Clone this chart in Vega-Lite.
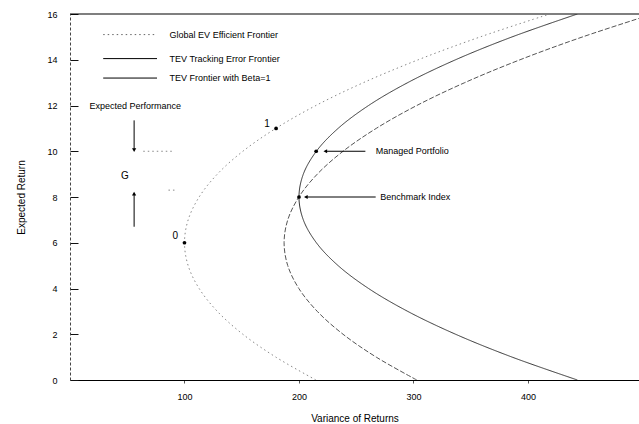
{
  "$schema": "https://vega.github.io/schema/vega-lite/v6.json",
  "width": 569,
  "height": 366,
  "autosize": "none",
  "padding": {"left": 70, "top": 14, "right": 0, "bottom": 44},
  "background": "white",
  "config": {
    "view": {"stroke": null},
    "font": "Liberation Sans",
    "axis": {"grid": false, "labelFont": "Liberation Sans", "titleFont": "Liberation Sans", "labelColor": "black", "titleColor": "black", "titleFontWeight": "normal"}
  },
  "datasets": {
    "curves": [
      {"series": "Global EV Efficient Frontier", "mu": 0, "v": 214.8},
      {"series": "Global EV Efficient Frontier", "mu": 1, "v": 179.8},
      {"series": "Global EV Efficient Frontier", "mu": 2, "v": 151.0},
      {"series": "Global EV Efficient Frontier", "mu": 3, "v": 128.7},
      {"series": "Global EV Efficient Frontier", "mu": 4, "v": 112.8},
      {"series": "Global EV Efficient Frontier", "mu": 5, "v": 103.2},
      {"series": "Global EV Efficient Frontier", "mu": 6, "v": 100.0},
      {"series": "Global EV Efficient Frontier", "mu": 7, "v": 103.2},
      {"series": "Global EV Efficient Frontier", "mu": 8, "v": 112.8},
      {"series": "Global EV Efficient Frontier", "mu": 9, "v": 128.7},
      {"series": "Global EV Efficient Frontier", "mu": 10, "v": 151.0},
      {"series": "Global EV Efficient Frontier", "mu": 11, "v": 179.8},
      {"series": "Global EV Efficient Frontier", "mu": 12, "v": 214.8},
      {"series": "Global EV Efficient Frontier", "mu": 13, "v": 256.3},
      {"series": "Global EV Efficient Frontier", "mu": 14, "v": 304.2},
      {"series": "Global EV Efficient Frontier", "mu": 15, "v": 358.4},
      {"series": "Global EV Efficient Frontier", "mu": 16, "v": 419.0},
      {"series": "TEV Tracking Error Frontier", "mu": 0, "v": 302.9},
      {"series": "TEV Tracking Error Frontier", "mu": 1, "v": 267.5},
      {"series": "TEV Tracking Error Frontier", "mu": 2, "v": 238.5},
      {"series": "TEV Tracking Error Frontier", "mu": 3, "v": 216.0},
      {"series": "TEV Tracking Error Frontier", "mu": 4, "v": 199.9},
      {"series": "TEV Tracking Error Frontier", "mu": 5, "v": 190.2},
      {"series": "TEV Tracking Error Frontier", "mu": 6, "v": 187.0},
      {"series": "TEV Tracking Error Frontier", "mu": 7, "v": 190.2},
      {"series": "TEV Tracking Error Frontier", "mu": 8, "v": 199.9},
      {"series": "TEV Tracking Error Frontier", "mu": 9, "v": 216.0},
      {"series": "TEV Tracking Error Frontier", "mu": 10, "v": 238.5},
      {"series": "TEV Tracking Error Frontier", "mu": 11, "v": 267.5},
      {"series": "TEV Tracking Error Frontier", "mu": 12, "v": 302.9},
      {"series": "TEV Tracking Error Frontier", "mu": 13, "v": 344.8},
      {"series": "TEV Tracking Error Frontier", "mu": 14, "v": 393.1},
      {"series": "TEV Tracking Error Frontier", "mu": 15, "v": 447.8},
      {"series": "TEV Tracking Error Frontier", "mu": 16, "v": 509.0},
      {"series": "TEV Frontier with Beta=1", "mu": 0, "v": 443.2},
      {"series": "TEV Frontier with Beta=1", "mu": 1, "v": 386.2},
      {"series": "TEV Frontier with Beta=1", "mu": 2, "v": 336.8},
      {"series": "TEV Frontier with Beta=1", "mu": 3, "v": 295.0},
      {"series": "TEV Frontier with Beta=1", "mu": 4, "v": 260.8},
      {"series": "TEV Frontier with Beta=1", "mu": 5, "v": 234.2},
      {"series": "TEV Frontier with Beta=1", "mu": 6, "v": 215.2},
      {"series": "TEV Frontier with Beta=1", "mu": 7, "v": 203.8},
      {"series": "TEV Frontier with Beta=1", "mu": 8, "v": 200.0},
      {"series": "TEV Frontier with Beta=1", "mu": 9, "v": 203.8},
      {"series": "TEV Frontier with Beta=1", "mu": 10, "v": 215.2},
      {"series": "TEV Frontier with Beta=1", "mu": 11, "v": 234.2},
      {"series": "TEV Frontier with Beta=1", "mu": 12, "v": 260.8},
      {"series": "TEV Frontier with Beta=1", "mu": 13, "v": 295.0},
      {"series": "TEV Frontier with Beta=1", "mu": 14, "v": 336.8},
      {"series": "TEV Frontier with Beta=1", "mu": 15, "v": 386.2},
      {"series": "TEV Frontier with Beta=1", "mu": 16, "v": 443.2}
    ],
    "legend": [
      {"series": "Global EV Efficient Frontier", "mu": 15.1, "v1": 29, "v2": 76, "vt": 87},
      {"series": "TEV Tracking Error Frontier", "mu": 14.05, "v1": 29, "v2": 76, "vt": 87},
      {"series": "TEV Frontier with Beta=1", "mu": 13.2, "v1": 29, "v2": 76, "vt": 87}
    ],
    "points": [
      {"name": "0", "v": 100, "mu": 6},
      {"name": "1", "v": 180, "mu": 11},
      {"name": "Managed Portfolio", "v": 215, "mu": 10},
      {"name": "Benchmark Index", "v": 200, "mu": 8}
    ],
    "notesLeft": [
      {"text": "Expected Performance", "v": 17, "mu": 12.0},
      {"text": "Managed Portfolio", "v": 267, "mu": 10.0},
      {"text": "Benchmark Index", "v": 271, "mu": 8.0}
    ],
    "notesCenter": [
      {"text": "G", "v": 48, "mu": 8.9},
      {"text": "0", "v": 92, "mu": 6.3},
      {"text": "1", "v": 172, "mu": 11.2}
    ],
    "arrows": [
      {"v1": 258, "mu1": 10, "v2": 223, "mu2": 10, "dir": "left"},
      {"v1": 267, "mu1": 8, "v2": 206, "mu2": 8, "dir": "left"},
      {"v1": 56, "mu1": 11.35, "v2": 56, "mu2": 10.05, "dir": "down"},
      {"v1": 56, "mu1": 6.7, "v2": 56, "mu2": 8.15, "dir": "up"}
    ],
    "guides": [
      {"v1": 64, "v2": 90, "mu": 10},
      {"v1": 86, "v2": 92, "mu": 8.3}
    ]
  },
  "layer": [
    {
      "data": {"values": [{}]},
      "mark": {"type": "rule", "color": "black", "strokeWidth": 1.2},
      "encoding": {"y": {"datum": 16, "type": "quantitative", "scale": {"domain": [0, 16], "nice": false}}}
    },
    {
      "data": {"name": "curves"},
      "mark": {"type": "line", "interpolate": "catmull-rom", "clip": true, "strokeWidth": 1},
      "encoding": {
        "x": {"field": "v", "type": "quantitative", "scale": {"domain": [0, 497], "nice": false, "zero": false},
          "axis": {"values": [100, 200, 300, 400], "title": "Variance of Returns", "titleFontSize": 10, "titlePadding": 12, "labelFontSize": 9, "tickSize": 3, "labelPadding": 9, "tickColor": "#555", "domainColor": "black", "domainWidth": 1.2}},
        "y": {"field": "mu", "type": "quantitative", "scale": {"domain": [0, 16], "nice": false},
          "axis": {"values": [0,1,2,3,4,5,6,7,8,9,10,11,12,13,14,15,16], "labelExpr": "datum.value % 2 === 0 ? datum.label : ''", "title": "Expected Return", "titleFontSize": 10, "titlePadding": 20, "labelFontSize": 9, "tickSize": -8, "tickWidth": 1, "labelPadding": 21, "tickColor": "#111111", "domainColor": "#444444", "domainDash": [3, 2]}},
        "order": {"field": "mu"},
        "detail": {"field": "series"},
        "color": {"field": "series", "type": "nominal", "legend": null,
          "scale": {"domain": ["Global EV Efficient Frontier", "TEV Tracking Error Frontier", "TEV Frontier with Beta=1"], "range": ["#888888", "#555555", "#333333"]}},
        "strokeDash": {"field": "series", "type": "nominal", "legend": null,
          "scale": {"domain": ["Global EV Efficient Frontier", "TEV Tracking Error Frontier", "TEV Frontier with Beta=1"], "range": [[1.5, 3], [5, 2], [1, 0]]}}
      }
    },
    {
      "data": {"name": "legend"},
      "transform": [{"filter": "datum.series === 'Global EV Efficient Frontier'"}],
      "mark": {"type": "rule", "color": "#666666", "strokeDash": [1.5, 3]},
      "encoding": {"x": {"field": "v1", "type": "quantitative"}, "x2": {"field": "v2"}, "y": {"field": "mu", "type": "quantitative"}}
    },
    {
      "data": {"name": "legend"},
      "transform": [{"filter": "datum.series !== 'Global EV Efficient Frontier'"}],
      "mark": {"type": "rule", "color": "black"},
      "encoding": {"x": {"field": "v1", "type": "quantitative"}, "x2": {"field": "v2"}, "y": {"field": "mu", "type": "quantitative"}}
    },
    {
      "data": {"name": "legend"},
      "mark": {"type": "text", "align": "left", "baseline": "middle", "fontSize": 9, "font": "Liberation Sans", "color": "black"},
      "encoding": {"x": {"field": "vt", "type": "quantitative"}, "y": {"field": "mu", "type": "quantitative"}, "text": {"field": "series"}}
    },
    {
      "data": {"name": "guides"},
      "mark": {"type": "rule", "color": "#888888", "strokeDash": [1.5, 3]},
      "encoding": {"x": {"field": "v1", "type": "quantitative"}, "x2": {"field": "v2"}, "y": {"field": "mu", "type": "quantitative"}}
    },
    {
      "data": {"name": "arrows"},
      "mark": {"type": "rule", "color": "black", "strokeWidth": 1},
      "encoding": {"x": {"field": "v1", "type": "quantitative"}, "x2": {"field": "v2"}, "y": {"field": "mu1", "type": "quantitative"}, "y2": {"field": "mu2"}}
    },
    {
      "data": {"name": "arrows"},
      "mark": {"type": "point", "filled": true, "color": "black", "size": 18, "opacity": 1},
      "encoding": {"x": {"field": "v2", "type": "quantitative"}, "y": {"field": "mu2", "type": "quantitative"},
        "shape": {"field": "dir", "type": "nominal", "legend": null, "scale": {"domain": ["left", "down", "up"], "range": ["triangle-left", "triangle-down", "triangle-up"]}}}
    },
    {
      "data": {"name": "points"},
      "mark": {"type": "point", "filled": true, "color": "black", "size": 14, "opacity": 1},
      "encoding": {"x": {"field": "v", "type": "quantitative"}, "y": {"field": "mu", "type": "quantitative"}}
    },
    {
      "data": {"name": "notesLeft"},
      "mark": {"type": "text", "align": "left", "baseline": "middle", "fontSize": 9, "font": "Liberation Sans", "color": "black"},
      "encoding": {"x": {"field": "v", "type": "quantitative"}, "y": {"field": "mu", "type": "quantitative"}, "text": {"field": "text"}}
    },
    {
      "data": {"name": "notesCenter"},
      "mark": {"type": "text", "align": "center", "baseline": "middle", "fontSize": 10, "font": "Liberation Sans", "color": "black"},
      "encoding": {"x": {"field": "v", "type": "quantitative"}, "y": {"field": "mu", "type": "quantitative"}, "text": {"field": "text"}}
    }
  ]
}
